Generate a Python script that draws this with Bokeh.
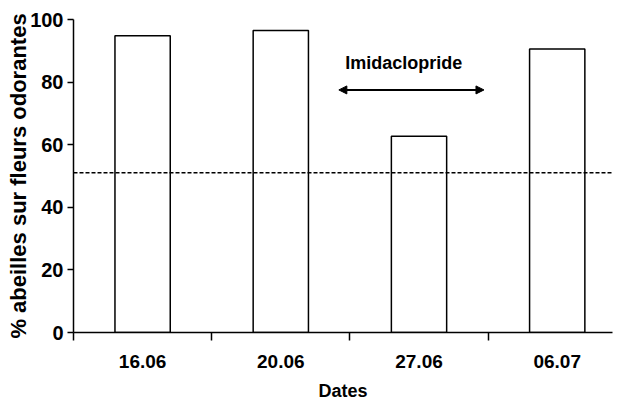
from bokeh.plotting import figure
from bokeh.models import (Range1d, FixedTicker, Span, Arrow, NormalHead, Label)
from bokeh.embed import file_html
from bokeh.resources import INLINE

# ---- data ----
dates = ["16.06", "20.06", "27.06", "06.07"]
pct_odorant = [94.8, 96.5, 62.7, 90.6]
threshold = 51
y_ticks = [0, 20, 40, 60, 80, 100]
treatment_label = "Imidaclopride"
treatment_from = 1.92   # in category units
treatment_to = 2.97
treatment_level = 77.5
treatment_text_pos = (2.39, 86)

FONT = "Liberation Sans"

centers = [i + 0.5 for i in range(len(dates))]
bounds = [float(i) for i in range(len(dates) + 1)]

p = figure(width=619, height=404, output_backend="svg", toolbar_location=None,
           x_range=Range1d(0, 3.9), y_range=Range1d(0, 100),
           min_border_left=73, min_border_right=7, min_border_top=19,
           min_border_bottom=72)
p.outline_line_color = None
p.xgrid.visible = False
p.ygrid.visible = False
p.background_fill_color = "white"

p.vbar(x=centers, top=pct_odorant, bottom=0, width=0.4,
       fill_color="white", line_color="black", line_width=1.5)

# x axis
xa = p.xaxis[0]
xa.ticker = FixedTicker(ticks=centers, minor_ticks=bounds)
xa.major_label_overrides = {c: d for c, d in zip(centers, dates)}
xa.major_tick_line_color = None
xa.major_tick_out = 8
xa.major_tick_in = 0
xa.minor_tick_out = 8
xa.minor_tick_in = 0
xa.minor_tick_line_color = "black"
xa.minor_tick_line_width = 1.5
xa.axis_line_width = 1.5
xa.axis_line_color = "black"
xa.major_label_text_font = FONT
xa.major_label_text_font_style = "bold"
xa.major_label_text_font_size = "19px"
xa.major_label_text_color = "black"
xa.major_label_standoff = 14
xa.axis_label = "Dates"
xa.axis_label_text_font = FONT
xa.axis_label_text_font_style = "bold"
xa.axis_label_text_font_size = "18px"
xa.axis_label_text_color = "black"
xa.axis_label_standoff = 10

# y axis
ya = p.yaxis[0]
ya.ticker = FixedTicker(ticks=y_ticks)
ya.minor_tick_line_color = None
ya.major_tick_out = 6
ya.major_tick_in = 0
ya.major_tick_line_width = 1.5
ya.major_tick_line_color = "black"
ya.axis_line_width = 1.5
ya.axis_line_color = "black"
ya.major_label_text_font = FONT
ya.major_label_text_font_style = "bold"
ya.major_label_text_font_size = "20px"
ya.major_label_text_color = "black"
ya.major_label_standoff = 4
ya.axis_label = "% abeilles sur fleurs odorantes"
ya.axis_label_text_font = FONT
ya.axis_label_text_font_style = "bold"
ya.axis_label_text_font_size = "22px"
ya.axis_label_text_color = "black"
ya.axis_label_standoff = -4

p.add_layout(Span(location=threshold, dimension="width", line_color="black",
                  line_dash="4 2", line_width=1.5))

p.add_layout(Arrow(x_start=treatment_from, y_start=treatment_level,
                   x_end=treatment_to, y_end=treatment_level,
                   line_width=2, line_color="black",
                   start=NormalHead(size=8, fill_color="black", line_color="black"),
                   end=NormalHead(size=8, fill_color="black", line_color="black")))

p.add_layout(Label(x=treatment_text_pos[0], y=treatment_text_pos[1],
                   text=treatment_label, text_align="center",
                   text_baseline="middle", text_font=FONT,
                   text_color="black",
                   text_font_style="bold", text_font_size="18px"))

open("out.html", "w").write(file_html(p, INLINE))
